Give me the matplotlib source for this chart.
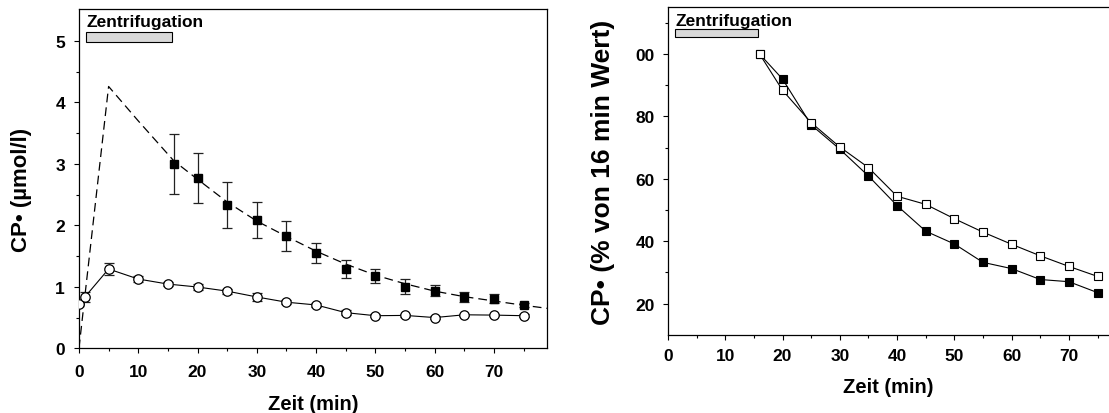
import matplotlib
matplotlib.use("Agg")
import matplotlib.pyplot as plt
from matplotlib.patches import Rectangle
from matplotlib.ticker import FixedLocator

plt.rcParams['font.family'] = ['Liberation Sans', 'DejaVu Sans']
plt.rcParams['font.weight'] = 'bold'

# ---- left panel data ----
sq_x = [16, 20, 25, 30, 35, 40, 45, 50, 55, 60, 65, 70, 75]
sq_y = [3.00, 2.77, 2.33, 2.09, 1.83, 1.555, 1.29, 1.18, 1.00, 0.94, 0.83, 0.81, 0.70]
sq_err = [0.49, 0.41, 0.37, 0.29, 0.24, 0.16, 0.14, 0.115, 0.12, 0.09, 0.08, 0.075, 0.03]

circ_x = [0, 1, 5, 10, 15, 20, 25, 30, 35, 40, 45, 50, 55, 60, 65, 70, 75]
circ_y = [0.72, 0.835, 1.29, 1.127, 1.045, 0.997, 0.93, 0.835, 0.75, 0.705, 0.58, 0.53, 0.535, 0.50, 0.545, 0.54, 0.53]
circ_err = [0.0, 0.08, 0.09, 0.05, 0.03, 0.05, 0.04, 0.06, 0.03, 0.04, 0.04, 0.02, 0.02, 0.02, 0.02, 0.02, 0.02]

fit_x = [0, 5, 10, 16, 20, 25, 30, 35, 40, 45, 50, 55, 60, 65, 70, 75, 79]
fit_y = [0.0, 4.26, 3.70, 3.05, 2.75, 2.38, 2.07, 1.82, 1.58, 1.37, 1.19, 1.05, 0.93, 0.84, 0.77, 0.70, 0.65]

# ---- right panel data ----
rel_x = [16, 20, 25, 30, 35, 40, 45, 50, 55, 60, 65, 70, 75]
rel_filled = [100, 92.0, 77.3, 69.5, 60.9, 51.4, 43.2, 39.1, 33.2, 31.2, 27.7, 27.0, 23.5]
rel_open = [100, 88.4, 78.0, 70.2, 63.6, 54.4, 51.8, 47.2, 42.9, 39.0, 35.3, 31.9, 28.7]

right_yticks = [20, 40, 60, 80, 100]
right_yticklabels = ['20', '40', '60', '80', '00']

zentri_label = 'Zentrifugation'
zentri_start, zentri_end = 1.2, 15.7

fig = plt.figure(figsize=(11.09, 4.14), dpi=100)
ax1 = fig.add_axes([0.0712, 0.1563, 0.4223, 0.8195])
ax2 = fig.add_axes([0.6023, 0.1891, 0.3977, 0.7909])

tick_fs = 12.5
xlabel_fs = 14.5

def style(ax, xpad, ypad):
    ax.tick_params(which='major', direction='out', length=3.5, width=0.8,
                   labelsize=tick_fs, top=False, right=False)
    ax.tick_params(axis='x', which='major', pad=xpad)
    ax.tick_params(axis='y', which='major', pad=ypad)
    ax.tick_params(which='minor', direction='out', length=2.5, width=0.8,
                   top=False, right=False)
    for lab in ax.get_xticklabels() + ax.get_yticklabels():
        lab.set_fontweight('bold')
    for s in ax.spines.values():
        s.set_linewidth(0.9)

# Left panel
ax1.plot(fit_x, fit_y, color='black', lw=0.9, ls=(0, (7, 4)), zorder=2)
ax1.errorbar(sq_x, sq_y, yerr=sq_err, fmt='s', color='black', ms=5.8,
             ecolor='#222222', elinewidth=0.9, capsize=3.6, capthick=0.9, zorder=3)
ax1.errorbar(circ_x, circ_y, yerr=circ_err, fmt='none', ecolor='#222222',
             elinewidth=0.9, capsize=3.6, capthick=0.9, zorder=3)
ax1.plot(circ_x, circ_y, color='black', lw=0.8, marker='o', ms=6.8,
         mfc='white', mec='black', mew=0.9, zorder=4)
ax1.set_xlim(0, 79)
ax1.set_ylim(0, 5.52)
ax1.xaxis.set_major_locator(FixedLocator([0, 10, 20, 30, 40, 50, 60, 70]))
ax1.xaxis.set_minor_locator(FixedLocator([5, 15, 25, 35, 45, 55, 65, 75]))
ax1.yaxis.set_major_locator(FixedLocator([0, 1, 2, 3, 4, 5]))
ax1.yaxis.set_minor_locator(FixedLocator([0.5, 1.5, 2.5, 3.5, 4.5]))
ax1.set_xlabel('Zeit (min)', fontsize=xlabel_fs, fontweight='bold')
ax1.set_ylabel('CP\u2022 (\u00b5mol/l)', fontsize=16, fontweight='bold')
ax1.xaxis.set_label_coords(0.5, -0.162)
ax1.xaxis.label.set_verticalalignment('center')
ax1.yaxis.set_label_coords(-0.122, 0.47)
ax1.yaxis.label.set_verticalalignment('center')
ax1.add_patch(Rectangle((zentri_start, 4.99), zentri_end - zentri_start, 0.15,
                        facecolor='#d9d9d9', edgecolor='black', lw=0.8, zorder=5))
ax1.text(1.3, 5.24, zentri_label, fontsize=12.5, fontweight='bold', ha='left', va='baseline')
style(ax1, 7.5, 6.5)

# Right panel
ax2.plot(rel_x, rel_filled, color='black', lw=0.8, marker='s', ms=6.3,
         mfc='black', mec='black', mew=0.8, zorder=3)
ax2.plot(rel_x, rel_open, color='black', lw=0.8, marker='s', ms=6.3,
         mfc='white', mec='black', mew=0.8, zorder=4)
ax2.set_xlim(0, 77)
ax2.set_ylim(10, 115)
ax2.xaxis.set_major_locator(FixedLocator([0, 10, 20, 30, 40, 50, 60, 70]))
ax2.xaxis.set_minor_locator(FixedLocator([5, 15, 25, 35, 45, 55, 65, 75]))
ax2.set_yticks(right_yticks)
ax2.set_yticklabels(right_yticklabels)
ax2.yaxis.set_minor_locator(FixedLocator([30, 50, 70, 90, 110]))
ax2.spines['right'].set_visible(False)
ax2.set_xlabel('Zeit (min)', fontsize=xlabel_fs, fontweight='bold')
ax2.set_ylabel('CP\u2022 (% von 16 min Wert)', fontsize=19, fontweight='bold')
ax2.xaxis.set_label_coords(0.5, -0.159)
ax2.xaxis.label.set_verticalalignment('center')
ax2.yaxis.set_label_coords(-0.148, 0.5)
ax2.yaxis.label.set_verticalalignment('center')
ax2.add_patch(Rectangle((1.3, 105.4), 14.5, 2.6,
                        facecolor='#d9d9d9', edgecolor='black', lw=0.8, zorder=5, clip_on=False))
ax2.text(1.4, 109.4, zentri_label, fontsize=12.5, fontweight='bold', ha='left', va='baseline')
style(ax2, 6, 6)

fig.savefig('out.png', dpi=100)
